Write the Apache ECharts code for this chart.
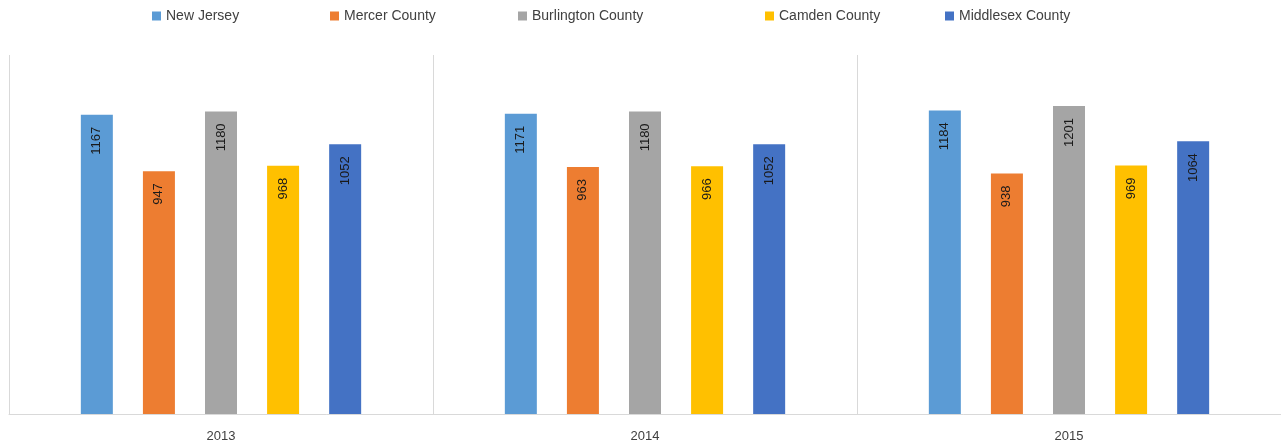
<!DOCTYPE html>
<html><head><meta charset="utf-8">
<script src="https://cdn.jsdelivr.net/npm/echarts@6/dist/echarts.min.js"></script>
<style>html,body{margin:0;padding:0;background:#fff}#c{width:1281px;height:445px}</style>
</head><body><div id="c"></div>
<script>
const categories = ['2013', '2014', '2015'];
const seriesNames = ['New Jersey', 'Mercer County', 'Burlington County', 'Camden County', 'Middlesex County'];
const newJersey = [1167, 1171, 1184];
const mercer = [947, 963, 938];
const burlington = [1180, 1180, 1201];
const camden = [968, 966, 969];
const middlesex = [1052, 1052, 1064];
const colors = ['#5B9BD5', '#ED7D31', '#A5A5A5', '#FFC000', '#4472C4'];
const legendLeft = [147, 325, 513, 760, 940];

const values = [newJersey, mercer, burlington, camden, middlesex];
const font = '"Liberation Sans", "Open Sans", sans-serif';

const chart = echarts.init(document.getElementById('c'));
chart.setOption({
  animation: false,
  color: colors,
  legend: seriesNames.map((n, i) => ({
    data: [n], left: legendLeft[i], top: 4,
    itemWidth: 9, itemHeight: 9, icon: 'rect', itemGap: 5,
    textStyle: { fontFamily: font, fontSize: 14, color: '#404040' }
  })),
  grid: { left: 9, right: -2, top: 55, bottom: 31 },
  xAxis: {
    type: 'category', data: categories,
    axisLine: { lineStyle: { color: '#d9d9d9', width: 1 } },
    axisTick: { show: false },
    splitLine: { show: true, lineStyle: { color: '#d9d9d9', width: 1 } },
    axisLabel: { fontFamily: font, fontSize: 13, color: '#404040', margin: 16 }
  },
  yAxis: { type: 'value', min: 0, max: 1400, show: false, splitLine: { show: false } },
  series: seriesNames.map((n, i) => ({
    name: n, type: 'bar', data: values[i],
    barWidth: 32, barGap: '94%',
    label: {
      show: true, position: 'insideTop', rotate: 90, distance: 12,
      align: 'right', verticalAlign: 'middle',
      fontFamily: font, fontSize: 13, color: '#1a1a1a'
    }
  }))
});
</script></body></html>
